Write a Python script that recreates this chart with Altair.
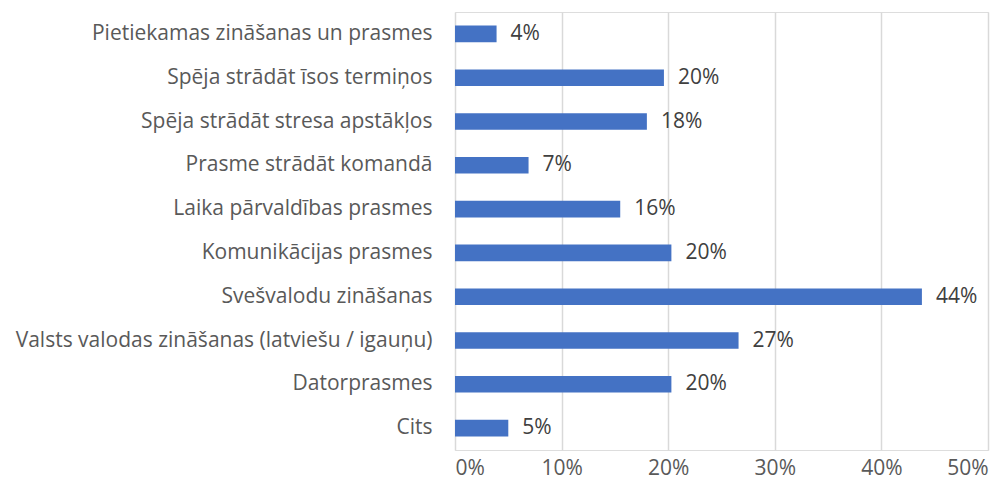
import altair as alt
import pandas as pd

categories = [
    "Pietiekamas zināšanas un prasmes",
    "Spēja strādāt īsos termiņos",
    "Spēja strādāt stresa apstākļos",
    "Prasme strādāt komandā",
    "Laika pārvaldības prasmes",
    "Komunikācijas prasmes",
    "Svešvalodu zināšanas",
    "Valsts valodas zināšanas (latviešu / igauņu)",
    "Datorprasmes",
    "Cits",
]
values = [0.039, 0.196, 0.180, 0.069, 0.155, 0.203, 0.438, 0.266, 0.203, 0.050]

df = pd.DataFrame({"category": categories, "value": values})

FONT = "Open Sans"
TXT = "#595959"
VAL = "#404040"
FS = 21

y = alt.Y("category:N", sort=categories, title=None,
          scale=alt.Scale(paddingInner=0.62, paddingOuter=0.31),
          axis=alt.Axis(labelFont=FONT, labelFontSize=FS, labelColor=TXT,
                        labelPadding=23, ticks=False, domain=False, grid=False,
                        labelLimit=500))
x = alt.X("value:Q", title=None,
          scale=alt.Scale(domain=[0, 0.5], nice=False),
          axis=alt.Axis(format=".0%", values=[0, 0.1, 0.2, 0.3, 0.4, 0.5],
                        labelFont=FONT, labelFontSize=FS, labelColor=TXT,
                        labelPadding=7, ticks=False, domain=False,
                        grid=True, gridColor="#D9D9D9", gridWidth=1.5))

bars = alt.Chart(df).mark_bar(color="#4472C4").encode(x=x, y=y)
labels = alt.Chart(df).mark_text(align="left", baseline="middle", dx=14,
                                 font=FONT, fontSize=FS, color=VAL).encode(
    x=alt.X("value:Q"), y=alt.Y("category:N", sort=categories),
    text=alt.Text("value:Q", format=".0%"))

chart = (bars + labels).properties(
    width=533, height=438,
    autosize=alt.AutoSizeParams(type="none"),
    padding={"left": 447, "top": 4, "right": 12, "bottom": 36},
).configure_view(stroke=None).configure(background="white")

chart.save("out.html", embed_options={"renderer": "svg", "actions": False})
